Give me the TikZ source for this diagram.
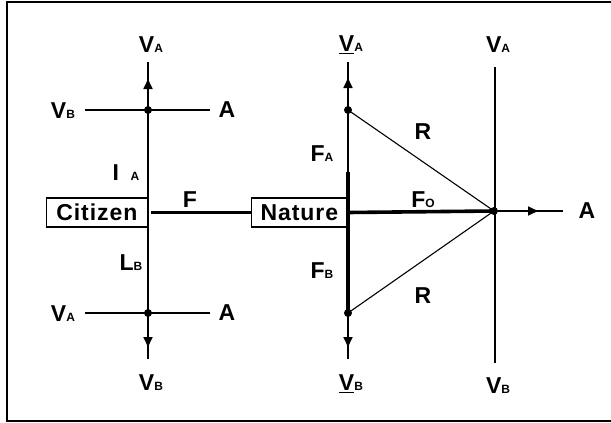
\documentclass[tikz,border=0pt]{standalone}
\usepackage{fontspec}
\setmainfont{Liberation Sans}
\usetikzlibrary{arrows.meta}
\newcommand{\sbl}[2]{#1{\fontsize{12}{12}\selectfont #2}}
\tikzset{
  lbl/.style={font=\fontsize{23}{23}\selectfont\bfseries, inner sep=0pt},
  thinln/.style={line width=1.7pt},
  thickln/.style={line width=3.6pt},
  rln/.style={line width=1.1pt},
  dot/.style={circle,fill,inner sep=0pt,minimum size=8pt},
  arr/.style={line width=1.7pt,-{Triangle[length=10pt,width=9pt]}},
  boxnode/.style={draw,line width=1.3pt,inner sep=0pt,minimum height=29pt,
    font=\fontsize{23}{23}\selectfont\bfseries\addfontfeature{LetterSpace=4}}
}
\begin{document}
\begin{tikzpicture}[x=1pt,y=-1pt]
\useasboundingbox (0,0) rectangle (611,423);
\draw[line width=1.8pt] (611,2) -- (7,2) -- (7,421) -- (611,421);

% citizen column
\coordinate (top1) at (148,62);
\coordinate (bot1) at (148,359);
\node[dot] (ta1) at (148,110) {};
\node[dot] (tb1) at (148,313) {};
\coordinate (ua1) at (148,79);
\coordinate (ub1) at (148,347);
\coordinate (la1) at (85,110);
\coordinate (ra1) at (210,110);
\coordinate (lb1) at (85,313);
\coordinate (rb1) at (210,313);
\draw[thinln] (top1) -- (bot1);
\draw[thinln] (la1) -- (ra1);
\draw[thinln] (lb1) -- (rb1);
\draw[arr] (ta1) -- (ua1);
\draw[arr] (tb1) -- (ub1);
\node[lbl] (va1) at (151,45) {\sbl{V}{A}};
\node[lbl] (vb1) at (151,383) {\sbl{V}{B}};
\node[lbl] (vbl) at (63,111) {\sbl{V}{B}};
\node[lbl] (al) at (227,110) {A};
\node[lbl] (val) at (63,314) {\sbl{V}{A}};
\node[lbl] (bl) at (227,313) {A};
\node[lbl] (ia) at (126,173) {I\,\,\,{\fontsize{12}{12}\selectfont A}};
\node[lbl] (lb) at (131,263) {\sbl{L}{B}};
\node[boxnode,minimum width=101pt,anchor=east] (cit) at (148,212.5) {Citizen};

% nature column
\coordinate (top2) at (348,62);
\coordinate (bot2) at (348,359);
\coordinate (fa2) at (348,172);
\node[dot] (ta2) at (348,110) {};
\node[dot] (tb2) at (348,313) {};
\coordinate (ua2) at (348,78);
\coordinate (ub2) at (348,347);
\draw[thinln] (top2) -- (bot2);
\draw[thickln] (fa2) -- (tb2.center);
\draw[arr] (ta2) -- (ua2);
\draw[arr] (tb2) -- (ub2);
\node[boxnode,minimum width=96pt,anchor=east] (nat) at (348,212.5) {Nature};
\draw[thickln] ([xshift=3pt]cit.east) -- (nat.west);
\node[lbl] (f) at (190,200) {F};
\node[lbl] (va2) at (351,45) {\sbl{\underline{V}}{A}};
\node[lbl] (vb2) at (351,384) {\sbl{\underline{V}}{B}};
\node[lbl] (fa) at (322,154) {\sbl{F}{A}};
\node[lbl] (fb) at (322,271) {\sbl{F}{B}};

% result
\node[dot] (o) at (494,211) {};
\coordinate (top3) at (495,67);
\coordinate (bot3) at (495,363);
\coordinate (ra3) at (563,211);
\coordinate (ua3) at (538,211);
\draw[thickln] (nat.east) -- (o.center);
\draw[rln] (ta2.center) -- (o.center);
\draw[rln] (tb2.center) -- (o.center);
\draw[thinln] (top3) -- (bot3);
\draw[thinln] (o) -- (ra3);
\draw[arr] (o) -- (ua3);
\node[lbl] (fo) at (423,200) {\sbl{F}{O}};
\node[lbl] (r1) at (423,132) {R};
\node[lbl] (r2) at (423,296) {R};
\node[lbl] (va3) at (498,45) {\sbl{V}{A}};
\node[lbl] (vb3) at (498,386) {\sbl{V}{B}};
\node[lbl] (a3) at (587,211) {A};
\end{tikzpicture}
\end{document}
